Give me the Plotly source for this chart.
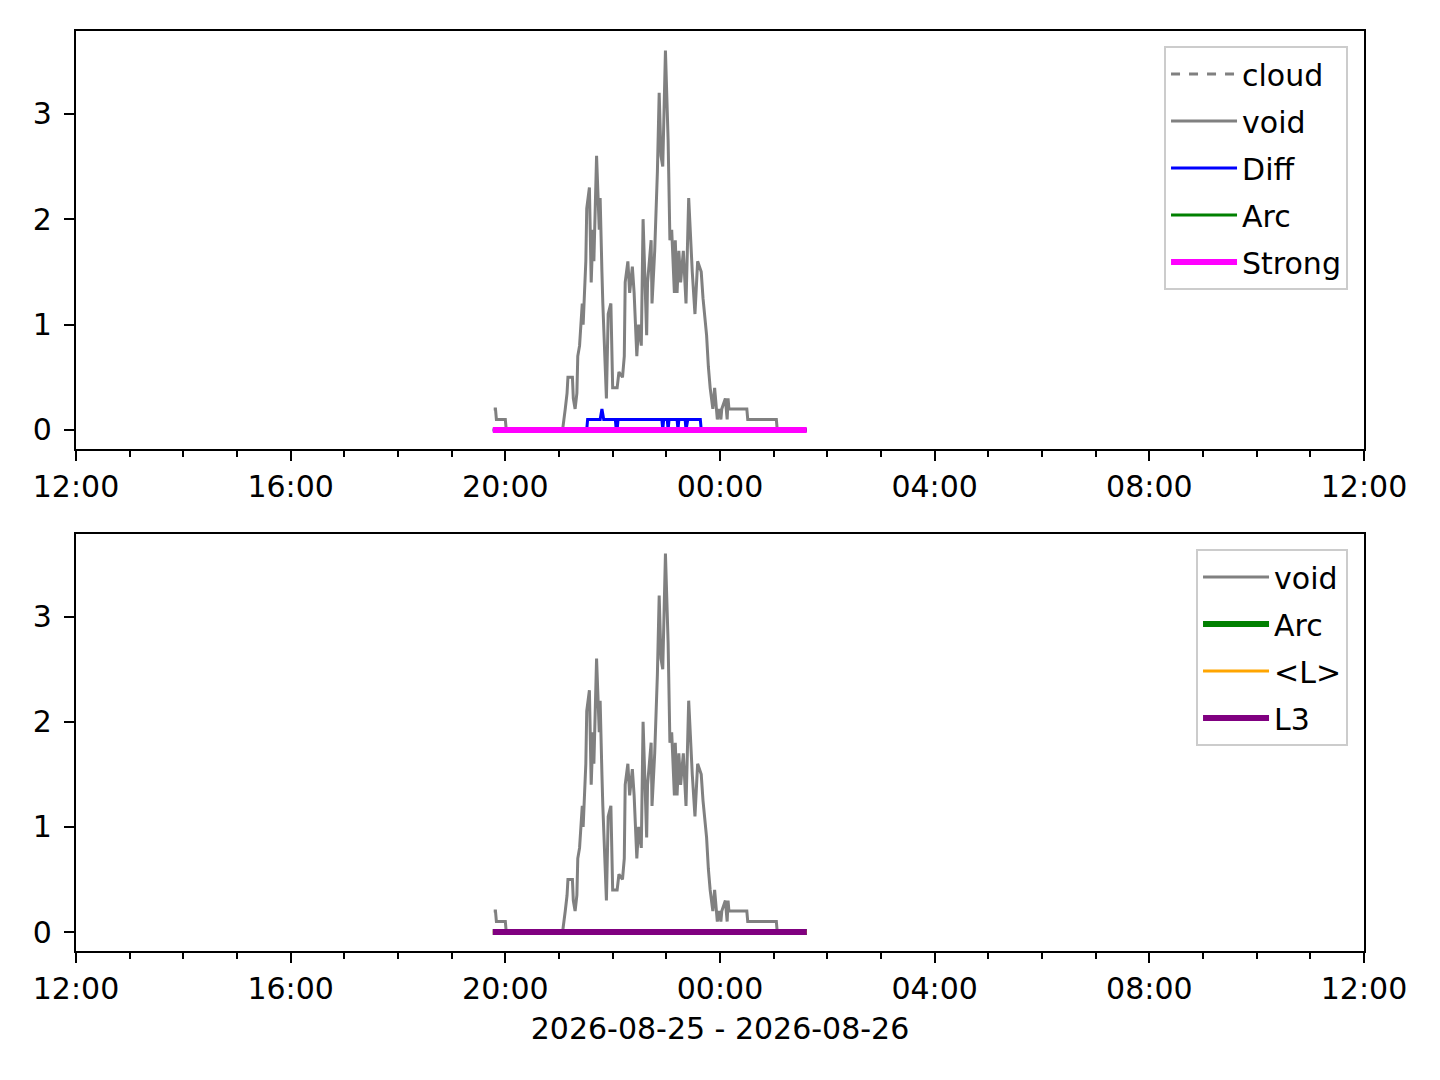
import plotly.graph_objects as go
from plotly.subplots import make_subplots

DAY0 = "2026-08-25"
DAY1 = "2026-08-26"

void_t = ["19:47","19:49","19:50","20:00","20:01","21:04","21:07","21:09","21:10","21:15",
          "21:16","21:18","21:20","21:21","21:23","21:26","21:27","21:30","21:31","21:34",
          "21:36","21:38","21:39","21:42","21:45","21:46","21:48","21:49","21:53","21:55",
          "21:58","22:00","22:05","22:07","22:11","22:13","22:14","22:17","22:19","22:22",
          "22:24","22:27","22:29","22:32","22:34","22:38","22:39","22:43","22:44","22:47",
          "22:50","22:52","22:54","22:56","22:59","23:02","23:04","23:06","23:09","23:10",
          "23:12","23:14","23:16","23:19","23:22","23:25","23:29","23:32","23:35","23:39",
          "23:41","23:45","23:47","23:49","23:52","23:54","23:57","23:59","00:01","00:02",
          "00:06","00:08","00:09","00:10","00:30","00:31","01:03","01:04","01:37"]
void_v = [0.2,0.2,0.1,0.1,0,0,0.2,0.35,0.5,0.5,
          0.3,0.2,0.35,0.7,0.8,1.2,1.0,1.6,2.1,2.3,
          1.4,1.9,1.6,2.6,1.9,2.2,1.5,1.2,0.3,1.1,
          1.2,0.4,0.4,0.55,0.5,0.7,1.4,1.6,1.3,1.55,
          1.3,0.7,1.0,0.8,2.0,0.9,1.4,1.8,1.2,1.7,
          2.45,3.2,2.6,2.5,3.6,2.75,1.8,1.9,1.3,1.8,
          1.3,1.7,1.4,1.7,1.2,2.2,1.5,1.1,1.6,1.5,
          1.25,0.9,0.6,0.4,0.2,0.4,0.1,0.2,0.1,0.2,
          0.3,0.1,0.3,0.2,0.2,0.1,0.1,0,0]

diff_t = ["19:46","21:31","21:32","21:46","21:48","21:50","22:03","22:04","22:05","22:06",
          "22:55","22:56","22:57","23:01","23:02","23:03","23:12","23:13","23:14","23:21",
          "23:22","23:24","23:38","23:39","01:37"]
diff_v = [0,0,0.1,0.1,0.2,0.1,0.1,0,0,0.1,
          0.1,0,0.1,0.1,0,0.1,0.1,0,0.1,0.1,
          0,0.1,0.1,0,0]

span_t = ["19:46","01:37"]
cloud_v = [0,0]
arc_v = [0,0]
strong_v = [0,0]
meanl_v = [0,0]
l3_v = [0,0]

y_ticks = [0,1,2,3]
x_tick_labels = ["12:00","16:00","20:00","00:00","04:00","08:00","12:00"]
x_label = "2026-08-25 - 2026-08-26"


def ts(times):
    out = []
    for t in times:
        h = int(t[:2])
        out.append((DAY0 if h >= 12 else DAY1) + " " + t)
    return out


x_tick_vals = [DAY0 + " 12:00", DAY0 + " 16:00", DAY0 + " 20:00", DAY1 + " 00:00",
               DAY1 + " 04:00", DAY1 + " 08:00", DAY1 + " 12:00"]

FONT = "DejaVu Sans"
FS = 30
PX = 3.0  # px per point

fig = make_subplots(rows=2, cols=1, vertical_spacing=0.0)

def add(row, name, t, v, color, width, dash="solid", legend="legend"):
    fig.add_trace(go.Scatter(x=ts(t), y=v, mode="lines", name=name,
                             line=dict(color=color, width=width, dash=dash),
                             legend=legend, legendgroup=name + str(row)),
                  row=row, col=1)

add(1, "cloud", span_t, cloud_v, "#808080", 1 * PX, dash="dash")
add(1, "void", void_t, void_v, "#808080", 1 * PX)
add(1, "Diff", diff_t, diff_v, "#0000ff", 1 * PX)
add(1, "Arc", span_t, arc_v, "#008000", 1 * PX)
add(1, "Strong", span_t, strong_v, "#ff00ff", 2 * PX)

add(2, "void", void_t, void_v, "#808080", 1 * PX, legend="legend2")
add(2, "Arc", span_t, arc_v, "#008000", 2 * PX, legend="legend2")
add(2, "<L>", span_t, meanl_v, "#ffa500", 1 * PX, legend="legend2")
add(2, "L3", span_t, l3_v, "#800080", 2 * PX, legend="legend2")

xaxis_common = dict(
    range=[DAY0 + " 12:00", DAY1 + " 12:00"],
    tickmode="array", tickvals=x_tick_vals, ticktext=x_tick_labels,
    ticks="outside", ticklen=10, tickwidth=2.2, tickcolor="black",
    showline=True, linecolor="black", linewidth=2.2, mirror=True,
    showgrid=False, zeroline=False,
    tickfont=dict(family=FONT, size=FS, color="black"),
    minor=dict(dtick=3600000, ticks="outside", ticklen=5.6, tickwidth=2.2,
               tickcolor="black", showgrid=False),
)
yaxis_common = dict(
    range=[-0.18, 3.785],
    tickmode="array", tickvals=y_ticks,
    ticks="outside", ticklen=10, tickwidth=2.2, tickcolor="black",
    showline=True, linecolor="black", linewidth=2.2, mirror=True,
    showgrid=False, zeroline=False, ticklabelstandoff=6,
    tickfont=dict(family=FONT, size=FS, color="black"),
)

fig.update_xaxes(**xaxis_common)
fig.update_yaxes(**yaxis_common)
fig.update_yaxes(domain=[0.5457, 1.0], row=1, col=1)
fig.update_yaxes(domain=[0.0, 0.4533], row=2, col=1)
fig.update_xaxes(title=dict(text=x_label, font=dict(family=FONT, size=FS, color="black"),
                            standoff=13), row=2, col=1)

legend_common = dict(
    xanchor="right", yanchor="top",
    bgcolor="rgba(255,255,255,0.8)", bordercolor="#cccccc", borderwidth=2,
    font=dict(family=FONT, size=FS, color="black"),
    tracegroupgap=5, itemwidth=66,
)

fig.update_layout(
    width=1440, height=1080,
    margin=dict(l=68, r=84, t=23, b=137),
    paper_bgcolor="white", plot_bgcolor="white",
    showlegend=True,
    legend=dict(x=0.9876, y=0.9836, **legend_common),
    legend2=dict(x=0.9876, y=0.437, **legend_common),
)

fig.write_html("out.html")
